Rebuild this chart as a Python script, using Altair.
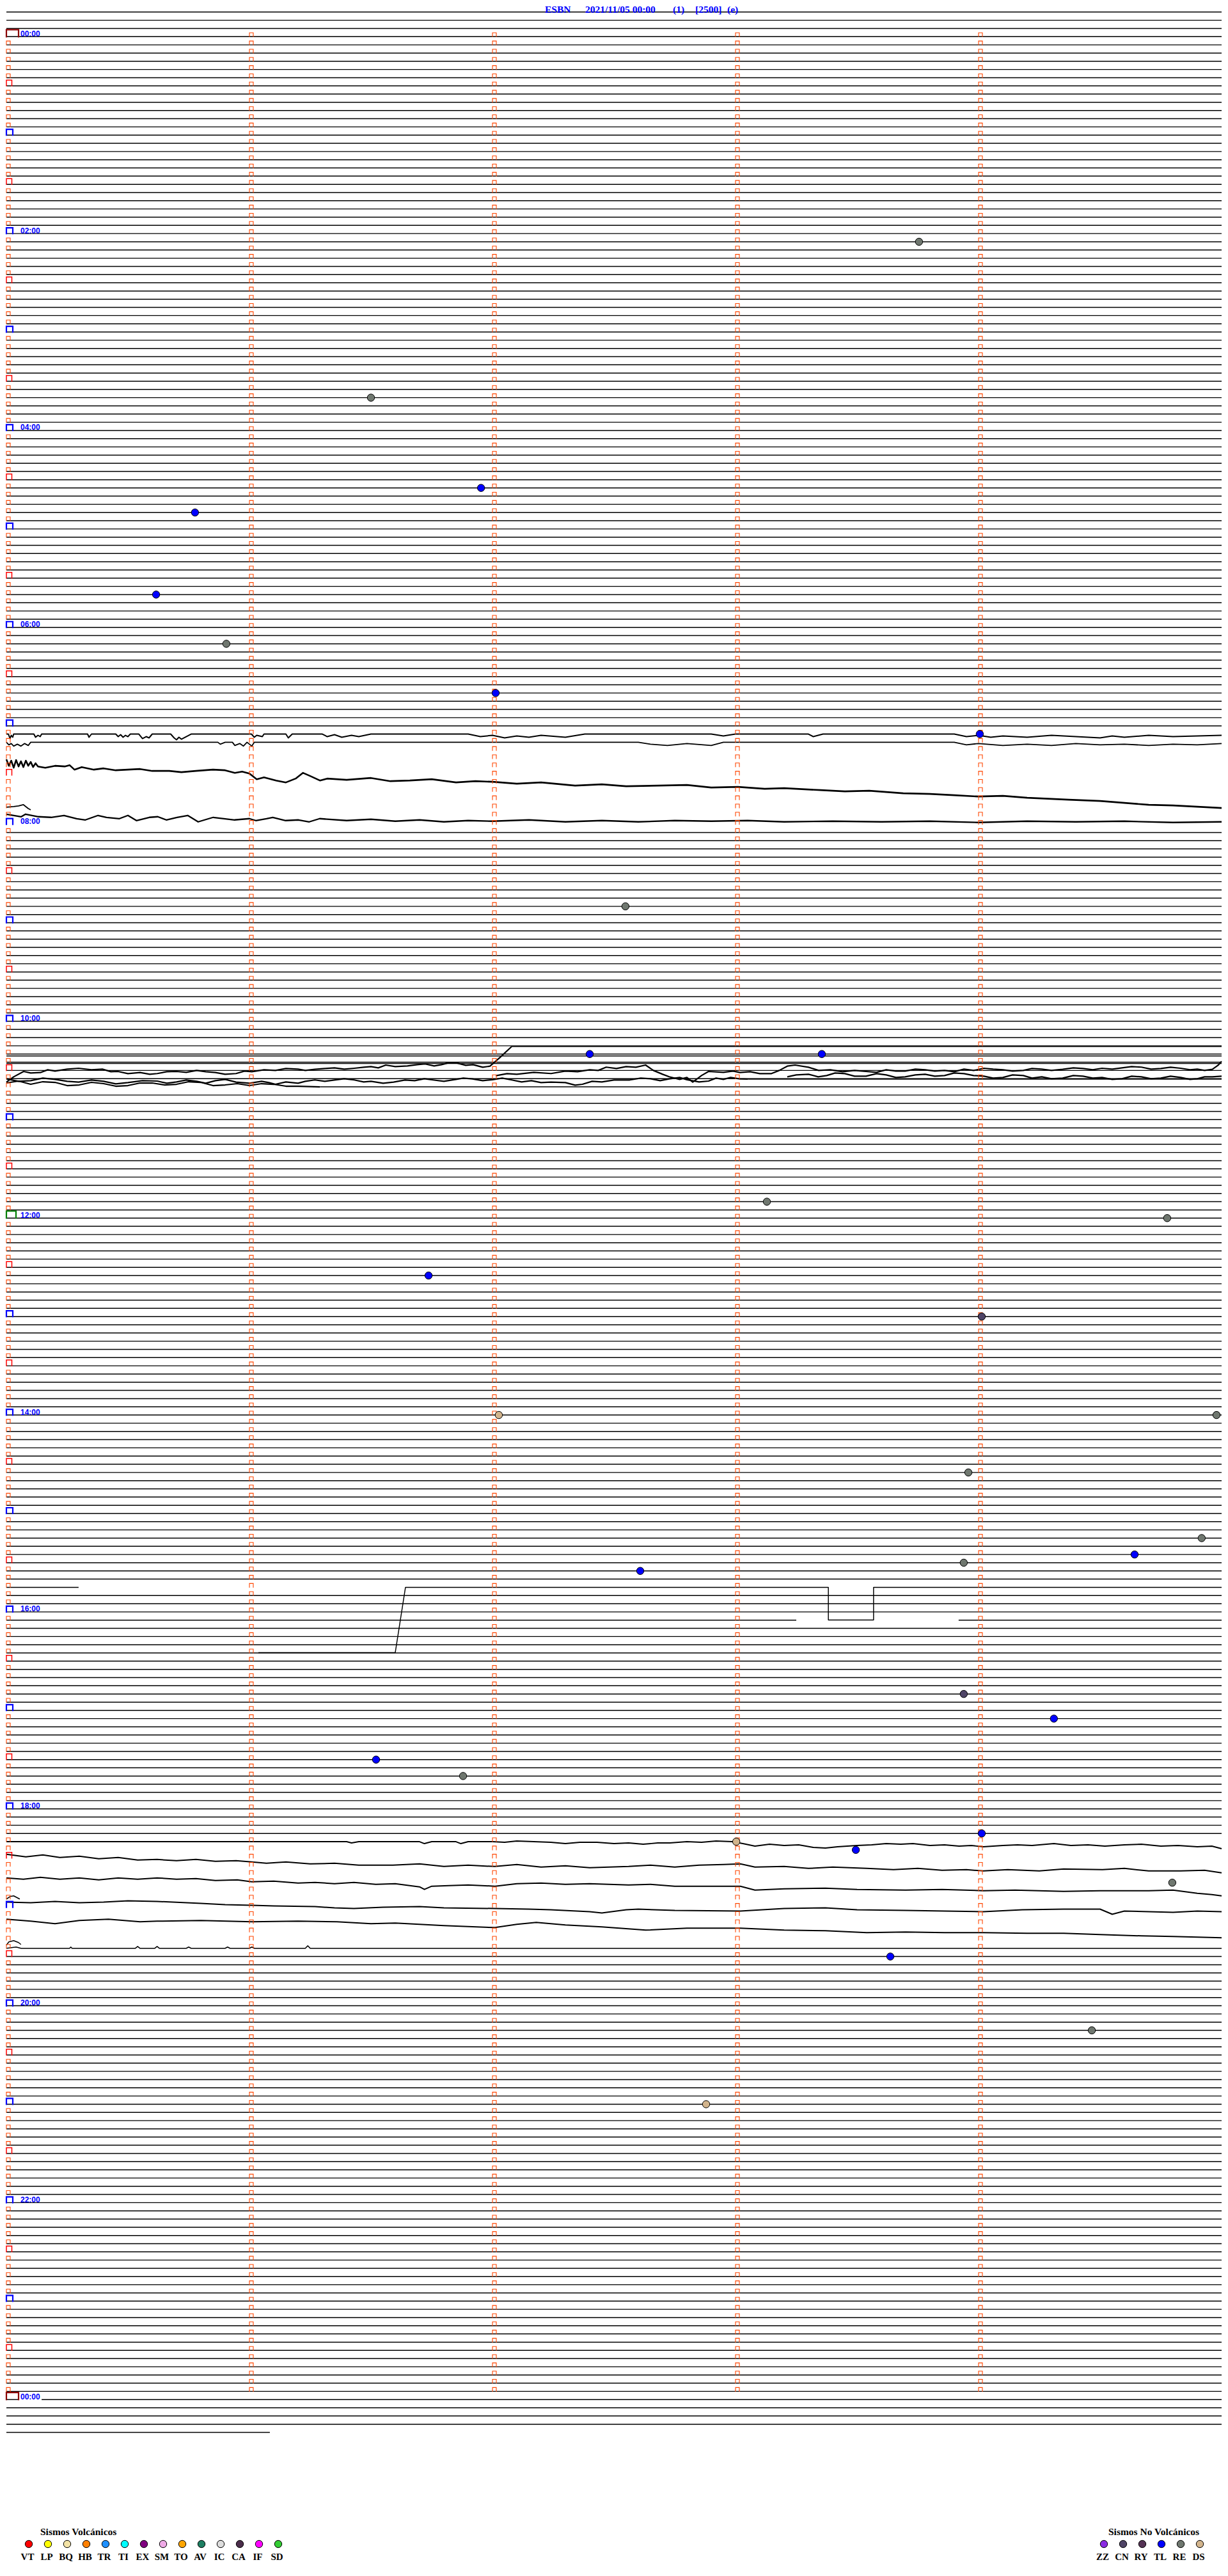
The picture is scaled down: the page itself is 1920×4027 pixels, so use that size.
import altair as alt
import pandas as pd

# ---------------- layout constants ----------------
W, H = 1904, 4004          # plot area (page minus 8px margin)
X0, PXM = 2.0, 380.0       # plot-x of minute 0, pixels per minute
Y0, RP = 49.3, 12.826      # plot-y of row 0, pixels per row
X_DOM = [-X0 / PXM, (W - X0) / PXM]
Y_DOM = [-Y0 / RP, (H - Y0) / RP]
BASE_W = 1.45

# ---------------- data ----------------
TITLE_PARTS = ["ESBN", "2021/11/05 00:00", "(1)", "[2500]", "(e)"]
TITLE_X = [844, 907, 1044, 1079, 1129]

FIRST_ROW, LAST_ROW = -4, 292
ROW_END = 5.0
LAST_ROW_END = 1.084

HOUR_LABEL_ROWS = list(range(0, 289, 24))
HOUR_LABELS = ["00:00", "02:00", "04:00", "06:00", "08:00", "10:00", "12:00",
               "14:00", "16:00", "18:00", "20:00", "22:00", "00:00"]

# custom traces: row -> list of segments, each (minute, offset px below baseline)
CUSTOM = {
    85: [[(0, 0), (0.008, 0), (0.015, 7), (0.02, 2), (0.026, 5), (0.03, 0), (0.113, 0),
          (0.12, 5), (0.13, 2), (0.139, 4), (0.145, 0), (0.334, 0), (0.34, 5), (0.35, 0),
          (0.45, 0), (0.46, 4), (0.47, 1), (0.48, 5), (0.49, 2), (0.5, 4), (0.51, 0),
          (0.545, 0), (0.56, 7), (0.575, 4), (0.587, 6), (0.6, 0), (0.676, 0), (0.69, 6),
          (0.7, 9), (0.71, 5), (0.72, 8), (0.73, 6), (0.745, 3), (0.76, 0), (1.008, 0),
          (1.02, 5), (1.03, 2), (1.053, 4), (1.06, 0), (1.15, 0), (1.16, 6), (1.176, 0),
          (1.3, 0), (1.32, 4), (1.35, 1), (1.38, 5), (1.42, 2), (1.45, 4), (1.5, 0), (1.9, 0),
          (1.95, 4), (2.0, 2), (2.05, 6), (2.1, 3), (2.15, 5), (2.2, 2), (2.3, 5), (2.38, 0),
          (2.9, 0), (2.95, 3), (3.0, 0), (3.3, 0), (3.32, 4), (3.36, 0), (3.9, 0), (3.95, 4),
          (4.0, 2), (4.05, 5), (4.1, 3), (4.2, 5), (4.3, 2), (4.4, 4), (4.5, 6), (4.55, 3),
          (4.6, 5), (4.7, 2), (4.8, 4), (4.9, 3), (5.0, 2)]],
    86: [[(0, 0), (0.01, 4), (0.02, 2), (0.03, 6), (0.045, 3), (0.06, 6), (0.075, 2),
          (0.09, 5), (0.1, 0), (0.87, 0), (0.88, 3), (0.9, 0), (0.93, 0), (0.94, 5), (0.96, 2),
          (0.975, 6), (0.99, 0), (1.01, 6), (1.02, 0), (2.6, 0), (2.65, 3), (2.72, 5), (2.8, 2),
          (2.9, 5), (2.95, 0), (3.9, 0), (3.95, 4), (4.0, 2), (4.1, 5), (4.2, 3), (4.3, 5),
          (4.4, 2), (4.5, 4), (4.6, 3), (4.7, 5), (4.8, 3), (4.9, 4), (5.0, 2)]],
    87: [[(0, 14), (0.01, 24), (0.02, 16), (0.03, 27), (0.04, 15), (0.05, 25), (0.06, 17),
          (0.07, 26), (0.08, 16), (0.09, 24), (0.1, 18), (0.11, 26), (0.12, 20), (0.13, 25),
          (0.16, 27), (0.2, 24), (0.24, 25), (0.26, 23), (0.28, 30), (0.31, 26), (0.36, 30),
          (0.4, 28), (0.45, 31), (0.5, 30), (0.55, 29), (0.6, 32), (0.67, 32), (0.72, 34),
          (0.78, 32), (0.85, 30), (0.9, 31), (0.94, 35), (0.97, 33), (1.0, 36), (1.03, 45),
          (1.06, 42), (1.11, 47), (1.15, 50), (1.19, 44), (1.22, 35), (1.25, 40), (1.29, 47),
          (1.32, 44), (1.4, 46), (1.5, 43), (1.58, 48), (1.66, 47), (1.75, 45), (1.85, 50),
          (1.93, 48), (2.0, 49), (2.1, 52), (2.2, 50), (2.34, 55), (2.45, 53), (2.55, 56),
          (2.68, 55), (2.8, 54), (2.9, 58), (3.01, 57), (3.12, 60), (3.2, 59), (3.35, 62),
          (3.45, 64), (3.55, 63), (3.69, 67), (3.8, 68), (3.9, 70), (4.0, 72), (4.1, 71),
          (4.2, 74), (4.37, 77), (4.5, 79), (4.6, 82), (4.7, 85), (4.8, 86), (4.9, 88),
          (5.0, 90)]],
    94: [[(0, -1), (0.03, -2), (0.05, -3), (0.07, -5), (0.09, 1), (0.1, 3)]],
    95: [[(0, -3), (0.061, 1), (0.079, -3), (0.132, 1), (0.184, 2), (0.237, -1), (0.289, 4),
          (0.325, 6), (0.377, -1), (0.412, 2), (0.465, 4), (0.5, -1), (0.535, 7), (0.588, 2),
          (0.623, 1), (0.658, 6), (0.702, 2), (0.746, -1), (0.789, 9), (0.833, 4), (0.851, 2),
          (0.939, 6), (1.0, 4), (1.026, 7), (1.07, 4), (1.096, 2), (1.149, 7), (1.202, 6),
          (1.246, 9), (1.289, 4), (1.4, 7), (1.5, 5), (1.6, 8), (1.7, 6), (1.8, 9), (1.9, 7),
          (2.0, 8), (2.15, 6), (2.3, 9), (2.45, 7), (2.6, 9), (2.75, 7), (2.9, 8), (3.05, 7),
          (3.2, 9), (3.4, 8), (3.6, 9), (3.8, 8), (4.0, 10), (4.2, 8), (4.4, 9), (4.6, 8),
          (4.8, 10), (5.0, 9)]],
    # 10:00 region
    124: [[(0, 0), (5.0, 0)], [(0, 3), (5.0, 3)]],
    125: [[(0, 0), (5.0, 0)], [(0, 2), (5.0, 2)]],
    128: [[(0, -6), (0.05, -9), (0.1, -4), (0.15, -8), (0.2, -7), (0.25, -2), (0.3, -3),
           (0.35, -7), (0.4, -5), (0.45, -1), (0.5, -2), (0.55, -6), (0.6, -6), (0.65, -3),
           (0.7, -4), (0.75, -8), (0.8, -7), (0.85, -2), (0.9, -3), (0.95, -5), (1.0, -2),
           (1.05, -5), (1.1, -4), (1.15, -1), (1.2, -1), (1.29, 0)], [(1.29, 0), (5.0, 0)]],
    # 16:00 region
    189: [[(0, 0), (0.297, 0)],
          [(1.037, 102), (1.60, 102), (1.642, 0), (3.382, 0), (3.382, 51), (3.568, 51),
           (3.568, 0), (5.0, 0)]],
    193: [[(0, 0), (3.25, 0)], [(3.918, 0), (5.0, 0)]],
    # 18:00 region
    220: [[(0, 0), (1.40, 0), (1.42, 2), (1.45, 0), (1.70, 0), (1.72, 3), (1.75, 0), (1.85, 0),
           (1.87, 3), (1.9, 0), (2.0, 0), (2.05, 1), (2.1, -1), (2.24, 1), (2.3, 3), (2.36, 1),
           (2.43, 1), (2.5, 3), (2.56, 2), (2.62, 4), (2.68, 2), (2.73, 2), (2.8, 0), (2.86, 1),
           (2.92, -1), (2.986, 0), (3.03, 3), (3.08, 7), (3.14, 4), (3.2, 6), (3.26, 5),
           (3.32, 9), (3.37, 10), (3.42, 8), (3.5, 6), (3.56, 5), (3.62, 3), (3.68, 4),
           (3.73, 3), (3.8, 6), (3.86, 5), (3.92, 7), (3.97, 6), (4.02, 8), (4.1, 6), (4.16, 5),
           (4.22, 6), (4.31, 3), (4.38, 6), (4.45, 5), (4.52, 7), (4.6, 5), (4.67, 4), (4.75, 7),
           (4.82, 6), (4.9, 8), (4.96, 7), (5.0, 11)]],
    221: [[(0, 7), (0.08, 11), (0.15, 8), (0.22, 12), (0.3, 10), (0.38, 14), (0.46, 12),
           (0.54, 16), (0.62, 15), (0.7, 17), (0.78, 15), (0.86, 18), (0.945, 17), (1.01, 19),
           (1.07, 21), (1.15, 19), (1.25, 22), (1.35, 21), (1.45, 24), (1.59, 24), (1.7, 22),
           (1.8, 26), (1.9, 24), (2.01, 26), (2.1, 23), (2.2, 27), (2.3, 25), (2.4, 28),
           (2.56, 26), (2.65, 24), (2.75, 27), (2.85, 24), (2.95, 23), (3.02, 22), (3.08, 27),
           (3.2, 26), (3.3, 29), (3.4, 27), (3.54, 29), (3.65, 31), (3.75, 29), (3.85, 32),
           (3.95, 31), (4.02, 33), (4.12, 31), (4.25, 33), (4.35, 30), (4.51, 31), (4.6, 29),
           (4.7, 33), (4.83, 33), (4.93, 32), (5.0, 36)]],
    222: [[(0, 31), (0.07, 33), (0.14, 30), (0.22, 33), (0.3, 31), (0.38, 34), (0.46, 31),
           (0.54, 33), (0.62, 31), (0.7, 33), (0.78, 32), (0.86, 35), (0.95, 34), (1.01, 37),
           (1.1, 36), (1.2, 39), (1.27, 38), (1.35, 40), (1.43, 38), (1.52, 41), (1.6, 40),
           (1.7, 45), (1.72, 49), (1.75, 44), (1.82, 43), (1.9, 42), (2.01, 44), (2.1, 40),
           (2.2, 39), (2.3, 41), (2.4, 40), (2.56, 42), (2.65, 41), (2.75, 44), (2.89, 44),
           (3.02, 44), (3.08, 50), (3.2, 48), (3.37, 47), (3.5, 49), (3.7, 50), (3.85, 49),
           (4.02, 51), (4.15, 50), (4.35, 52), (4.5, 51), (4.7, 51), (4.8, 50), (4.9, 55),
           (4.96, 57), (5.0, 59)]],
    223: [[(0, 56), (0.1, 57), (0.2, 55), (0.3, 57), (0.4, 56), (0.5, 54), (0.62, 55),
           (0.8, 58), (0.9, 60), (1.01, 61), (1.1, 62), (1.27, 63), (1.35, 65), (1.43, 66),
           (1.55, 64), (1.7, 63), (1.8, 65), (2.01, 66), (2.15, 67), (2.24, 68), (2.4, 71),
           (2.45, 73), (2.55, 68), (2.6, 67), (2.75, 69), (3.02, 70), (3.2, 66), (3.37, 65),
           (3.5, 68), (3.7, 69), (3.86, 70), (4.02, 71), (4.18, 68), (4.35, 67), (4.5, 67),
           (4.55, 75), (4.6, 70), (4.8, 72), (4.9, 70), (5.0, 71)]],
    224: [[(0, 70), (0.1, 73), (0.2, 77), (0.3, 72), (0.42, 70), (0.55, 74), (0.62, 73),
           (0.8, 72), (1.01, 74), (1.2, 73), (1.36, 74), (1.5, 77), (1.6, 76), (1.8, 80),
           (2.01, 83), (2.1, 78), (2.18, 75), (2.3, 79), (2.45, 82), (2.63, 87), (2.8, 84),
           (3.02, 84), (3.2, 87), (3.37, 88), (3.54, 91), (3.7, 90), (3.86, 91), (4.02, 91),
           (4.2, 92), (4.35, 92), (4.5, 94), (4.67, 96), (4.8, 97), (4.9, 98), (5.0, 99)]],
    233: [[(0, 0), (0.04, -2), (0.06, 0), (0.26, 0), (0.265, -2), (0.27, 0), (0.53, 0),
           (0.54, -3), (0.55, 0), (0.61, 0), (0.62, -3), (0.63, 0), (0.74, 0), (0.75, -2),
           (0.76, 0), (0.9, 0), (0.91, -2), (0.92, 0), (1.0, 0), (1.01, -2), (1.02, 0),
           (1.23, 0), (1.24, -4), (1.25, 0), (5.0, 0)],
          [(0, -5), (0.01, -10), (0.03, -12), (0.05, -9), (0.06, -6)]],
    288: [[(0, 0), (0.05, 0)], [(0.145, 0), (5.0, 0)]],
}
# stroke width of the first segment of noisy rows (jitter looks thicker)
NOISY_W = {85: 2.0, 86: 1.8, 87: 2.6, 94: 1.8, 95: 2.3, 128: 2.2, 220: 1.9, 221: 2.0,
           222: 2.0, 223: 2.0, 224: 2.0, 233: 1.6}
HIDDEN = set(range(88, 94)) | {96} | set(range(225, 233))

# extra trace pieces drawn relative to a row baseline (row, width, points)
EXTRA = [
    # 10:00 region, offsets relative to row 126
    (126, 2.2, [(0, 18.3), (0.03, 10), (0.071, 1.6), (0.1, 4), (0.14, 3.3), (0.17, -1),
                (0.2, 1), (0.25, -2), (0.297, -3.4), (0.35, -1), (0.395, -2), (0.43, 2),
                (0.459, 1.6), (0.5, 5), (0.55, 3.3), (0.59, 6), (0.621, 4.9), (0.66, 2),
                (0.7, 1.6), (0.74, 3), (0.783, 0), (0.82, 2), (0.86, 3.3), (0.9, 6),
                (0.945, 4.9), (0.98, 1), (1.01, 2), (1.06, -1), (1.107, 0), (1.15, -3),
                (1.2, -2), (1.23, 0), (1.269, -1.7), (1.31, -3), (1.35, -4), (1.39, -2),
                (1.431, -3.4), (1.47, -5), (1.5, -6), (1.53, -4), (1.561, -8.4), (1.6, -6),
                (1.65, -7), (1.69, -9), (1.723, -10.1), (1.76, -7), (1.79, -9), (1.82, -12),
                (1.852, -11.7), (1.89, -8), (1.92, -9), (1.96, -5), (1.99, -6.7), (2.03, -20),
                (2.079, -37.4)]),
    (126, BASE_W, [(2.079, -37.4), (5.0, -37.4)]),
    (126, 2.2, [(2.014, 8.3), (2.06, 5), (2.1, 6), (2.17, 3), (2.241, 4.9), (2.3, 1),
                (2.35, 2), (2.4, -1), (2.435, 0), (2.468, -5.1), (2.51, -3), (2.55, -6),
                (2.59, -5), (2.63, -8.4), (2.662, 0), (2.7, 6), (2.727, 9.9), (2.77, 14),
                (2.8, 11), (2.824, 18.3), (2.86, 8), (2.889, 1.6), (2.95, 3), (2.99, 1),
                (3.018, 3.3), (3.06, 2), (3.1, 5), (3.148, 4.9), (3.18, 0), (3.213, -6.7),
                (3.245, -8.4), (3.3, -5), (3.342, 0), (3.39, -1), (3.44, 2), (3.49, 0),
                (3.537, 1.6), (3.58, 3), (3.62, -1), (3.66, 1), (3.698, 1), (3.74, -2),
                (3.78, -1), (3.82, 1), (3.86, 0), (3.9, 2), (3.94, -2), (3.98, 0),
                (4.022, -3.4), (4.06, -2), (4.1, -1), (4.14, 1), (4.184, 0), (4.22, -3),
                (4.26, -2), (4.3, 0), (4.346, -1.7), (4.39, -4), (4.43, -3), (4.47, -1),
                (4.508, -3.4), (4.55, -2), (4.59, -4), (4.63, -6), (4.67, -5.1), (4.71, -2),
                (4.75, -3), (4.79, -5), (4.832, -3.4), (4.87, -1), (4.9, -2), (4.93, 0),
                (4.962, -1.7), (4.985, -8), (5.0, -14.1)]),
    (126, 2.2, [(0, 13.3), (0.05, 17), (0.1, 16), (0.15, 12), (0.2, 14), (0.25, 17),
                (0.297, 18.3), (0.35, 15), (0.4, 17), (0.45, 21), (0.5, 19), (0.56, 16),
                (0.621, 16.6), (0.66, 20), (0.7, 18), (0.74, 15), (0.783, 17), (0.82, 20),
                (0.86, 16), (0.9, 14), (0.945, 18.3), (1.0, 20), (1.05, 17), (1.08, 19),
                (1.107, 21.6), (1.15, 18), (1.2, 20), (1.23, 17), (1.269, 14.9), (1.31, 17),
                (1.35, 15), (1.39, 13), (1.431, 14.9), (1.47, 18), (1.5, 17), (1.55, 20),
                (1.593, 18.3), (1.64, 15), (1.68, 16), (1.72, 13), (1.755, 14.9), (1.8, 17),
                (1.85, 14), (1.88, 12), (1.917, 13.3), (1.96, 16), (2.0, 14.5), (2.04, 12),
                (2.079, 14.9), (2.12, 18), (2.16, 16), (2.2, 19), (2.241, 18.3), (2.3, 19),
                (2.34, 23), (2.37, 21.6), (2.41, 17), (2.45, 18), (2.5, 15), (2.565, 14.9),
                (2.61, 12), (2.65, 13), (2.69, 16), (2.727, 13.3), (2.77, 11), (2.8, 14.5),
                (2.85, 18), (2.889, 16.6), (2.92, 12), (2.95, 14), (2.98, 11), (3.018, 13.3),
                (3.051, 13.6)]),
    (126, BASE_W, [(3.051, 13.6), (5.0, 13.6)]),
    (126, 2.2, [(3.213, 10), (3.25, 7), (3.3, 6), (3.34, 10), (3.375, 8), (3.41, 4),
                (3.45, 5), (3.49, 9), (3.537, 9), (3.58, 5), (3.62, 7), (3.66, 11),
                (3.698, 10), (3.74, 7), (3.78, 6), (3.82, 9), (3.86, 8), (3.9, 4), (3.94, 5),
                (3.98, 8), (4.022, 9), (4.06, 12), (4.1, 11), (4.14, 7), (4.184, 8),
                (4.22, 12), (4.26, 10), (4.3, 13), (4.346, 12), (4.39, 8), (4.43, 9),
                (4.47, 12), (4.508, 11), (4.55, 14), (4.59, 13), (4.63, 9), (4.67, 10),
                (4.71, 13), (4.75, 12), (4.79, 9), (4.832, 11), (4.87, 14), (4.9, 13),
                (4.93, 10), (4.962, 10), (5.0, 9)]),
    (227, 1.6, [(0, 0), (0.015, -4), (0.03, -5), (0.045, -2), (0.055, 0)]),
]

EVENT_ROW = [25, 44, 55, 58, 68, 74, 80, 85, 106, 124, 124, 142, 144, 151, 156, 168, 168,
             175, 183, 185, 187, 186, 202, 205, 210, 212, 219, 220, 221, 225, 234, 243, 252]
EVENT_MIN = [3.755, 1.50, 1.953, 0.776, 0.616, 0.905, 2.013, 4.005, 2.547, 2.40, 3.355,
             3.129, 4.776, 1.737, 4.013, 2.026, 4.979, 3.958, 4.918, 4.642, 2.608, 3.939,
             3.939, 4.31, 1.521, 1.879, 4.013, 3.003, 3.495, 4.797, 3.637, 4.466, 2.879]
EVENT_TYPE = ["RE", "RE", "TL", "TL", "TL", "RE", "TL", "TL", "RE", "TL", "TL", "RE", "RE",
              "TL", "CN", "DS", "RE", "RE", "RE", "TL", "TL", "RE", "CN", "TL", "TL", "RE",
              "TL", "DS", "TL", "RE", "TL", "RE", "DS"]

VOLC_CODES = ["VT", "LP", "BQ", "HB", "TR", "TI", "EX", "SM", "TO", "AV", "IC", "CA", "IF", "SD"]
VOLC_COLORS = ["#FF0000", "#FFFF00", "#F3E3A6", "#FF8000", "#1E90FF", "#00FFFF", "#800080",
               "#EEAAE6", "#FFA500", "#1E7F62", "#DCDCDC", "#4B2D4B", "#FF00FF", "#33CC33"]
NOVOLC_CODES = ["ZZ", "CN", "RY", "TL", "RE", "DS"]
NOVOLC_COLORS = ["#8A2BE2", "#4F4466", "#553355", "#0000FF", "#6F776F", "#D2B48C"]

# ---------------- build tables ----------------
recs = []
sid = 0


def add_seg(row, pts, w):
    global sid
    for i, (m, o) in enumerate(pts):
        recs.append({"sid": sid, "i": i, "m": m, "row": row, "off": o, "w": w})
    sid += 1


for r in range(FIRST_ROW, LAST_ROW + 1):
    if r in HIDDEN:
        continue
    if r in CUSTOM:
        for j, seg in enumerate(CUSTOM[r]):
            add_seg(r, seg, NOISY_W.get(r, BASE_W) if j == 0 else BASE_W)
    else:
        end = LAST_ROW_END if r == LAST_ROW else ROW_END
        add_seg(r, [(0, 0), (end, 0)], BASE_W)
for r, w, seg in EXTRA:
    add_seg(r, seg, w)
lines_df = pd.DataFrame(recs)


def marker_kind(row, k):
    if k > 0:
        return "min"
    if row % 288 == 0:
        return "day"
    if row == 144:
        return "noon"
    if row % 12 == 0:
        return "hour"
    if row % 12 == 6:
        return "half"
    return "min"


mrec = []
for r in range(0, 288):
    for k in range(5):
        mrec.append({"row": r, "m": k, "kind": marker_kind(r, k)})
mrec.append({"row": 288, "m": 0, "kind": "day"})
marks_df = pd.DataFrame(mrec)

labels_df = pd.DataFrame({"row": HOUR_LABEL_ROWS, "txt": HOUR_LABELS})
events_df = pd.DataFrame({"row": EVENT_ROW, "m": EVENT_MIN, "t": EVENT_TYPE})
title_df = pd.DataFrame({"px": TITLE_X, "txt": TITLE_PARTS})

ALL_CODES = VOLC_CODES + NOVOLC_CODES
ALL_COLORS = VOLC_COLORS + NOVOLC_COLORS
leg_rows = []
for k, c in enumerate(VOLC_CODES):
    leg_rows.append({"px": 37 + 30 * k, "code": c})
for k, c in enumerate(NOVOLC_CODES):
    leg_rows.append({"px": 1718 + 30 * k, "code": c})
leg_df = pd.DataFrame(leg_rows)
leg_title_df = pd.DataFrame({"px": [55, 1725], "txt": ["Sismos Volcánicos", "Sismos No Volcánicos"]})

# ---------------- chart ----------------
XS = alt.Scale(domain=X_DOM, nice=False, zero=False)
YS = alt.Scale(domain=Y_DOM, nice=False, zero=False, reverse=True)
X = alt.X("m:Q", scale=XS, axis=None)
Yrow = alt.Y("row:Q", scale=YS, axis=None)
color_scale = alt.Scale(domain=ALL_CODES, range=ALL_COLORS)

traces = alt.Chart(lines_df).transform_calculate(
    yv="datum.row + datum.off / %f" % RP
).mark_line(color="black", interpolate="linear", strokeJoin="round").encode(
    x=X, y=alt.Y("yv:Q", scale=YS, axis=None), detail="sid:N", order="i:Q",
    strokeWidth=alt.StrokeWidth("w:Q", scale=None)
)

MARK_STYLE = {
    "min": ("M0,0L0,-6L6,-6L6,0", "#FF4500", 1.1),
    "half": ("M0,0L0,-9L8.5,-9L8.5,0", "#FF0000", 1.5),
    "hour": ("M0,0L0,-9L10,-9L10,0", "#0000FF", 2.2),
    "day": ("M0,0L0,-11L19,-11L19,0", "#8B0000", 2.2),
    "noon": ("M0,0L0,-11L15,-11L15,0", "#008000", 2.2),
}
marker_layers = []
for kind, (path, col, sw) in MARK_STYLE.items():
    marker_layers.append(
        alt.Chart(marks_df).transform_filter(alt.datum.kind == kind).mark_point(
            shape=path, size=4, filled=False, stroke=col, strokeWidth=sw, opacity=1,
            strokeCap="square"
        ).encode(x=X, y=Yrow)
    )

hour_text = alt.Chart(labels_df).mark_text(
    align="left", baseline="alphabetic", dy=-0.5, font="Liberation Sans", fontWeight="bold",
    fontSize=12, color="#0000FF"
).encode(x=alt.value(24), y=Yrow, text="txt:N")

events = alt.Chart(events_df).mark_circle(
    size=130, stroke="black", strokeWidth=1, opacity=1
).encode(x=X, y=Yrow, color=alt.Color("t:N", scale=color_scale, legend=None))

title = alt.Chart(title_df).mark_text(
    align="left", baseline="alphabetic", font="Liberation Serif", fontWeight="bold",
    fontSize=15.5, color="#0000FF"
).encode(x=alt.X("px:Q", scale=None), y=alt.value(11.5), text="txt:N")

leg_circles = alt.Chart(leg_df).mark_circle(
    size=130, stroke="black", strokeWidth=1, opacity=1
).encode(x=alt.X("px:Q", scale=None), y=alt.value(3969),
         color=alt.Color("code:N", scale=color_scale, legend=None))
leg_text = alt.Chart(leg_df).transform_calculate(tx="datum.px - 2").mark_text(
    align="center", baseline="alphabetic", font="Liberation Serif", fontWeight="bold",
    fontSize=15, color="black"
).encode(x=alt.X("tx:Q", scale=None), y=alt.value(3994), text="code:N")
leg_title = alt.Chart(leg_title_df).mark_text(
    align="left", baseline="alphabetic", font="Liberation Serif", fontWeight="bold",
    fontSize=15.5, color="black"
).encode(x=alt.X("px:Q", scale=None), y=alt.value(3955), text="txt:N")

chart = alt.layer(
    traces, *marker_layers, hour_text, events, title, leg_circles, leg_text, leg_title
).properties(width=W, height=H, padding=0, autosize="none").configure_view(stroke=None)

chart.save("out.html", embed_options={"renderer": "svg", "actions": False})
